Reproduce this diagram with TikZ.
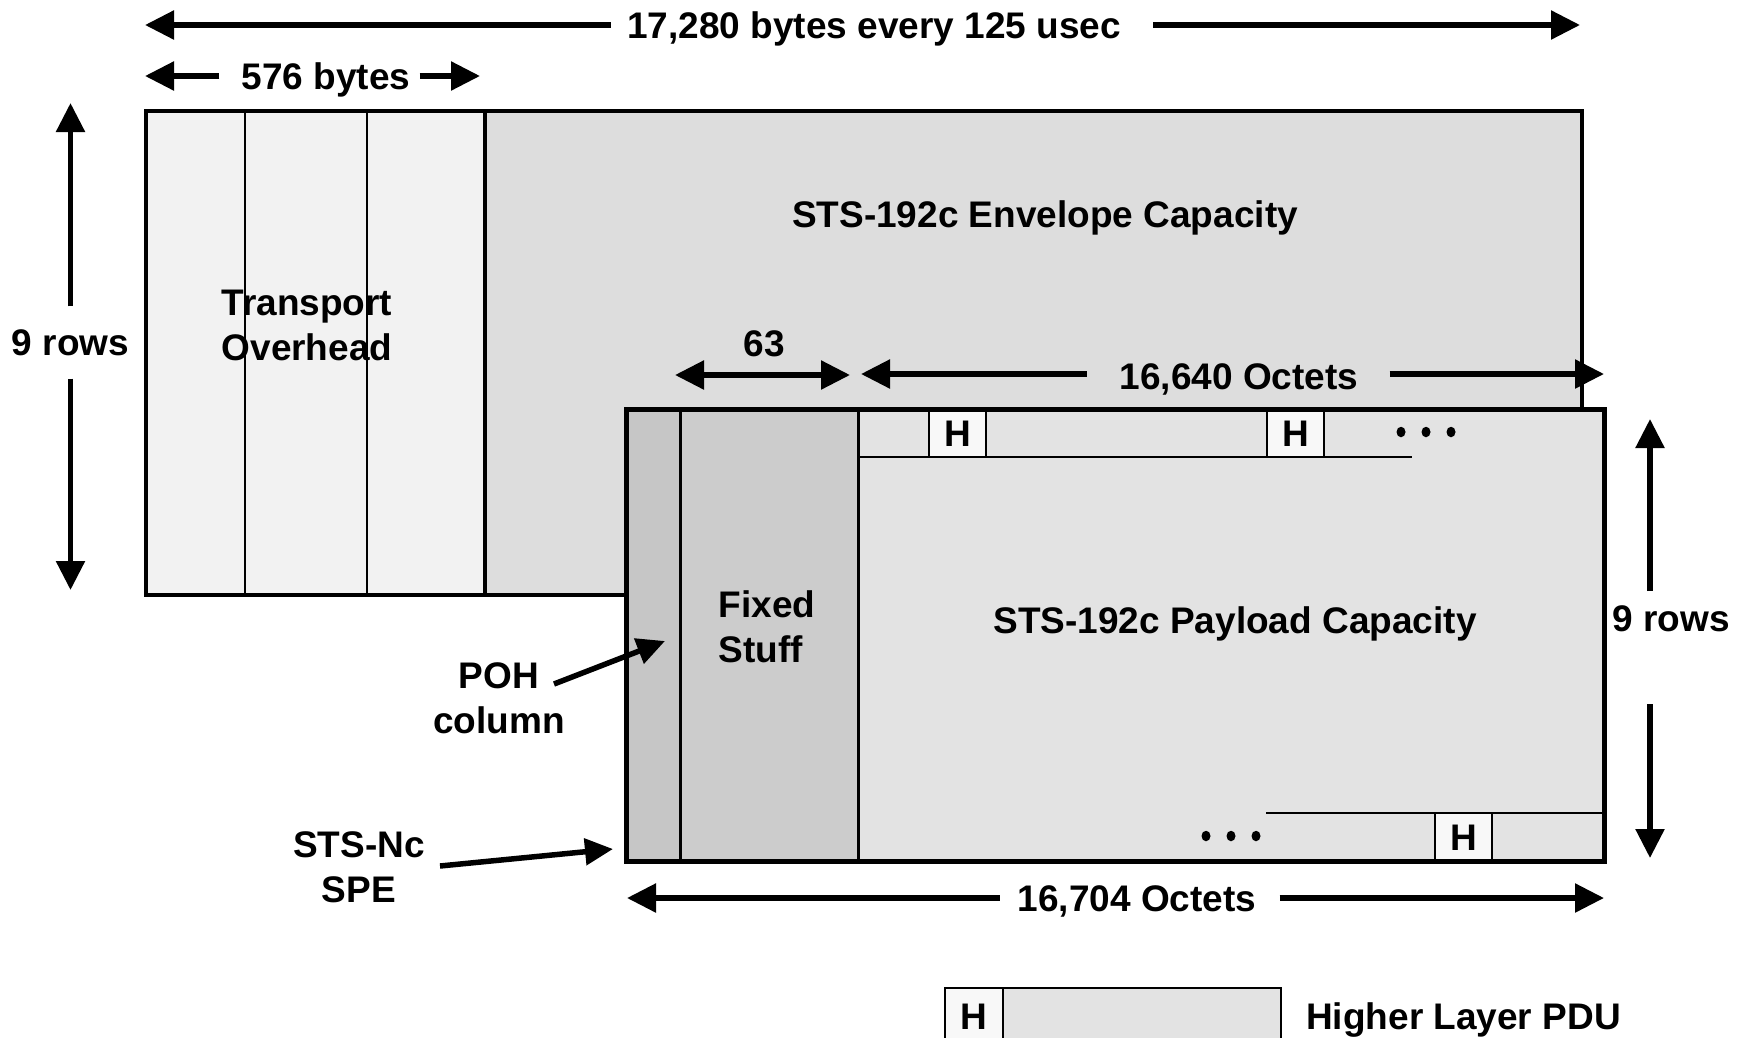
\documentclass[tikz,border=0pt]{standalone}
\usepackage{fontspec}
\setmainfont{Liberation Sans}
\usetikzlibrary{arrows.meta,shapes.geometric}
\definecolor{tohfill}{HTML}{F2F2F2}
\definecolor{envfill}{HTML}{DDDDDD}
\definecolor{pohfill}{HTML}{C6C6C6}
\definecolor{fixfill}{HTML}{CCCCCC}
\definecolor{payfill}{HTML}{E3E3E3}
\definecolor{hfill}{HTML}{F8F8F8}
\begin{document}
\begin{tikzpicture}[x=1pt,y=-1pt,
  txt/.style={font=\fontsize{37}{45}\selectfont\bfseries, inner sep=0pt},
  txtone/.style={txt, text height=27pt, text depth=0pt},
  dimline/.style={line width=5.5pt},
  tipend/.style={-{Triangle[length=29pt,width=28pt]}},
  tipboth/.style={{Triangle[length=29pt,width=28pt]}-{Triangle[length=29pt,width=28pt]}},
  framebox/.style={line width=4.5pt},
  thinline/.style={line width=2pt},
  hbox/.style={draw, thinline, fill=hfill, minimum width=57pt, minimum height=48pt,
    inner sep=0pt, font=\fontsize{37}{45}\selectfont\bfseries, text height=27pt, text depth=0pt},
  dot/.style={fill=black, ellipse, inner sep=0pt, minimum width=9pt, minimum height=10.5pt}]
\clip (0,0) rectangle (1747,1037);
\fill[white] (0,0) rectangle (1747,1037);

% ---------- STS-192c envelope ----------
\fill[envfill] (146,111) rectangle (1582,595);
\fill[tohfill] (146,111) rectangle (485,595);
\draw[thinline] (245,111) -- (245,595);
\draw[thinline] (367,111) -- (367,595);
\draw[line width=4pt] (485,111) -- (485,595);
\draw[framebox] (146,111) rectangle (1582,595);

\node[txt, align=left] (toh) at (307,325.5) {Transport\\Overhead};
\node[txtone] (env) at (1045,214) {STS-192c Envelope Capacity};

% ---------- top dimension arrows ----------
\coordinate (tL) at (145,25);
\coordinate (tR) at (1580,25);
\node[txtone] (tT) at (874,25) {17,280 bytes every 125 usec};
\draw[dimline,tipend] ([xshift=-16pt]tT.west) -- (tL);
\draw[dimline,tipend] ([xshift=32pt]tT.east) -- (tR);

\coordinate (bL) at (145,76);
\coordinate (bR) at (480,76);
\node[txtone] (bT) at (326,76) {576 bytes};
\draw[dimline,tipend] ([xshift=-22pt]bT.west) -- (bL);
\draw[dimline,tipend] ([xshift=9pt]bT.east) -- (bR);

% left 9 rows
\node[txtone] (rl) at (70.5,342) {9 rows};
\coordinate (rlT) at (70.5,103);
\coordinate (rlB) at (70.5,590);
\draw[dimline,tipend] ([yshift=22pt]rl.north) -- (rlT);
\draw[dimline,tipend] ([yshift=-23pt]rl.south) -- (rlB);

% ---------- SPE ----------
\fill[payfill] (626,409) rectangle (1604,861);
\fill[pohfill] (626,409) rectangle (680,861);
\fill[fixfill] (680,409) rectangle (858,861);
\draw[line width=3pt] (680,409) -- (680,861);
\draw[line width=3pt] (858,409) -- (858,861);
\draw[thinline] (858,457) -- (1412,457);
\draw[thinline] (1266,813) -- (1604,813);
\node[hbox] (h1) at (957.5,433) {H};
\node[hbox] (h2) at (1295.5,433) {H};
\node[hbox] (h3) at (1463.5,837) {H};
\node[dot] (d1) at (1401,432) {};
\node[dot] (d2) at (1426,432) {};
\node[dot] (d3) at (1451,432) {};
\node[dot] (d4) at (1206,836) {};
\node[dot] (d5) at (1231,836) {};
\node[dot] (d6) at (1256,836) {};
\draw[line width=5pt] (626,409) rectangle (1604,861);

\node[txt, align=left] (fix) at (767,626.5) {Fixed\\Stuff};
\node[txtone] (pay) at (1235,620) {STS-192c Payload Capacity};

% 63 and 16,640
\node[txtone] (n63) at (764,343) {63};
\coordinate (aL) at (675,375);
\coordinate (aR) at (850,375);
\draw[dimline,tipboth] (aL) -- (aR);

\node[txtone] (n166) at (1239,376) {16,640 Octets};
\coordinate (cL) at (861,374);
\coordinate (cR) at (1604,374);
\draw[dimline,tipend] ([xshift=-33pt,yshift=2pt]n166.west) -- (cL);
\draw[dimline,tipend] ([xshift=31pt,yshift=2pt]n166.east) -- (cR);

% right 9 rows
\node[txtone] (rr) at (1671,618) {9 rows};
\coordinate (rrT) at (1650,419);
\coordinate (rrB) at (1650,858);
\coordinate (rrU) at (1650,591);
\coordinate (rrD) at (1650,704);
\draw[dimline,tipend] (rrU) -- (rrT);
\draw[dimline,tipend] (rrD) -- (rrB);

% 16,704
\node[txtone] (n167) at (1137,898) {16,704 Octets};
\coordinate (eL) at (627,898);
\coordinate (eR) at (1604,898);
\draw[dimline,tipend] ([xshift=-18pt]n167.west) -- (eL);
\draw[dimline,tipend] ([xshift=23pt]n167.east) -- (eR);

% POH column label
\node[txt, align=center] (poh) at (499,698) {POH\\column};
\coordinate (pohS) at (554,684);
\coordinate (pohT) at (665,641);
\draw[dimline,-{Triangle[length=28pt,width=26pt]}] (pohS) -- (pohT);

% STS-Nc SPE label
\node[txt, align=center] (spe) at (359,867.5) {STS-Nc\\SPE};
\coordinate (speS) at (440,866);
\coordinate (speT) at (613,849);
\draw[dimline,-{Triangle[length=28pt,width=26pt]}] (speS) -- (speT);

% legend
\draw[thinline, fill=payfill] (1003,988) rectangle (1281,1060);
\draw[thinline, fill=hfill] (945,988) rectangle (1003,1060);
\node[txtone] (lh) at (974,1016) {H};
\node[txtone, anchor=west] (lt) at (1306,1016) {Higher Layer PDU};
\end{tikzpicture}
\end{document}
